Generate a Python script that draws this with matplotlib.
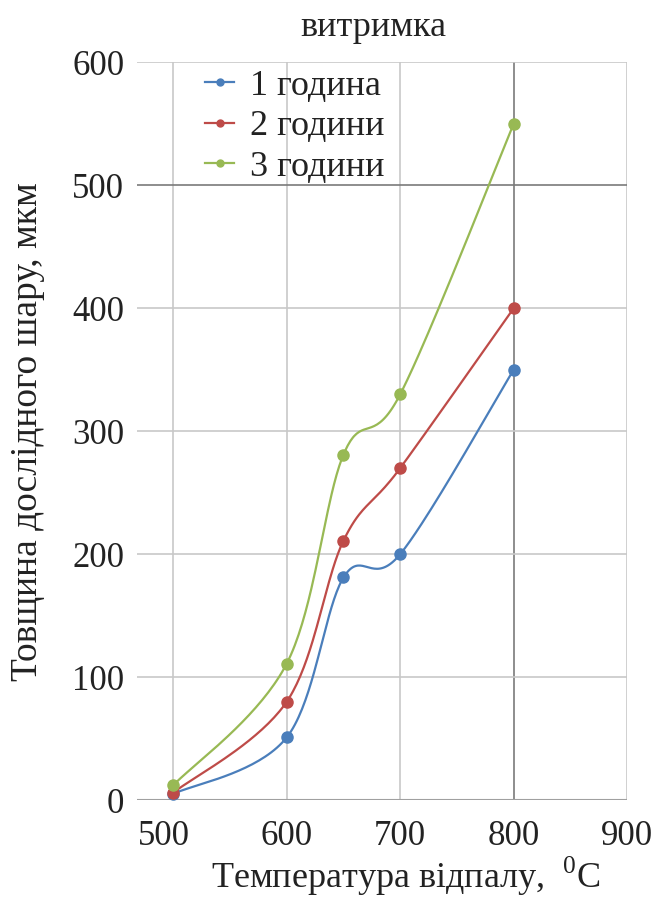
import numpy as np
import matplotlib
matplotlib.use("Agg")
import matplotlib.pyplot as plt
import matplotlib.transforms as mtransforms

plt.rcParams['font.family'] = ['Liberation Serif', 'DejaVu Serif']
plt.rcParams['mathtext.fontset'] = 'custom'
plt.rcParams['mathtext.rm'] = 'Liberation Serif'

temperature = [500, 600, 650, 700, 800]
one_hour = [5, 51, 181, 200, 350]
two_hours = [6, 80, 211, 270, 400]
three_hours = [12, 111, 281, 330, 550]
series_labels = ['1 година', '2 години', '3 години']
series_colors = ['#4A7EBB', '#BE4B48', '#98B954']
x_ticks = [500, 600, 700, 800, 900]
y_ticks = [0, 100, 200, 300, 400, 500, 600]

fig = plt.figure(figsize=(6.52, 9.02), dpi=100)
ax = fig.add_axes([0.210, 0.113, 0.752, 0.818])
ax.set_xlim(468, 900)
ax.set_ylim(0, 600)


def smooth_curve(ax, xs, ys, n=40):
    """Bezier smoothing between points, control points taken in display space."""
    pts = ax.transData.transform(np.column_stack([xs, ys]))
    m = len(pts)
    out = []
    for i in range(m - 1):
        p0 = pts[max(i - 1, 0)]
        p1 = pts[i]
        p2 = pts[i + 1]
        p3 = pts[min(i + 2, m - 1)]
        c1 = p1 + (p2 - p0) / 6.0
        c2 = p2 - (p3 - p1) / 6.0
        t = np.linspace(0, 1, n)[:, None]
        seg = ((1 - t) ** 3) * p1 + 3 * ((1 - t) ** 2) * t * c1 + 3 * (1 - t) * t ** 2 * c2 + t ** 3 * p2
        out.append(seg if i == 0 else seg[1:])
    out = np.vstack(out)
    data = ax.transData.inverted().transform(out)
    return data[:, 0], data[:, 1]


# grid
light = '#C8C8C8'
dark = '#7A7A7A'
for xv in [500, 600, 700, 900]:
    ax.axvline(xv, color=light, lw=1.2, zorder=0)
ax.axvline(800, color=dark, lw=1.2, zorder=0)
for yv in [100, 200, 300, 400, 600]:
    ax.axhline(yv, color=light, lw=1.2, zorder=0)
ax.axhline(500, color=dark, lw=1.2, zorder=0)
ax.axhline(0, color='#A0A0A0', lw=1.5, zorder=0)

for ys, lab, col in zip([one_hour, two_hours, three_hours], series_labels, series_colors):
    sx, sy = smooth_curve(ax, temperature, ys)
    ax.plot(sx, sy, color=col, lw=1.6, zorder=3)
    ax.plot(temperature, ys, 'o', color=col, ms=8, zorder=4)
    ax.plot([], [], '-o', color=col, lw=1.6, ms=5, label=lab)

for s in ax.spines.values():
    s.set_visible(False)

ax.set_xticks(x_ticks)
ax.set_yticks(y_ticks)
ax.tick_params(axis='both', length=0, labelsize=25, colors='#222222')
ax.tick_params(axis='y', pad=9)
ax.tick_params(axis='x', pad=14)

# first x label sits a little left of its gridline
first = ax.get_xticklabels()[0]
first.set_transform(first.get_transform() + mtransforms.ScaledTranslation(-0.09, 0, fig.dpi_scale_trans))

ax.set_title('витримка', fontsize=26, color='#222222', pad=19, x=0.482)
ax.set_ylabel('Товщина дослідного шару, мкм', fontsize=27, color='#222222')
ax.yaxis.set_label_coords(-0.188, 0.5)
ax.set_xlabel('Температура відпалу,  $^{0}$C', fontsize=26, color='#222222')
ax.xaxis.set_label_coords(0.549, -0.074)

leg = ax.legend(loc='upper left', bbox_to_anchor=(0.139, 0.99), frameon=False,
                fontsize=26, handlelength=0.8, handletextpad=0.45, labelspacing=0.2,
                borderpad=0, borderaxespad=0, labelcolor='#222222')

fig.savefig('out.png', dpi=100, facecolor='white')
